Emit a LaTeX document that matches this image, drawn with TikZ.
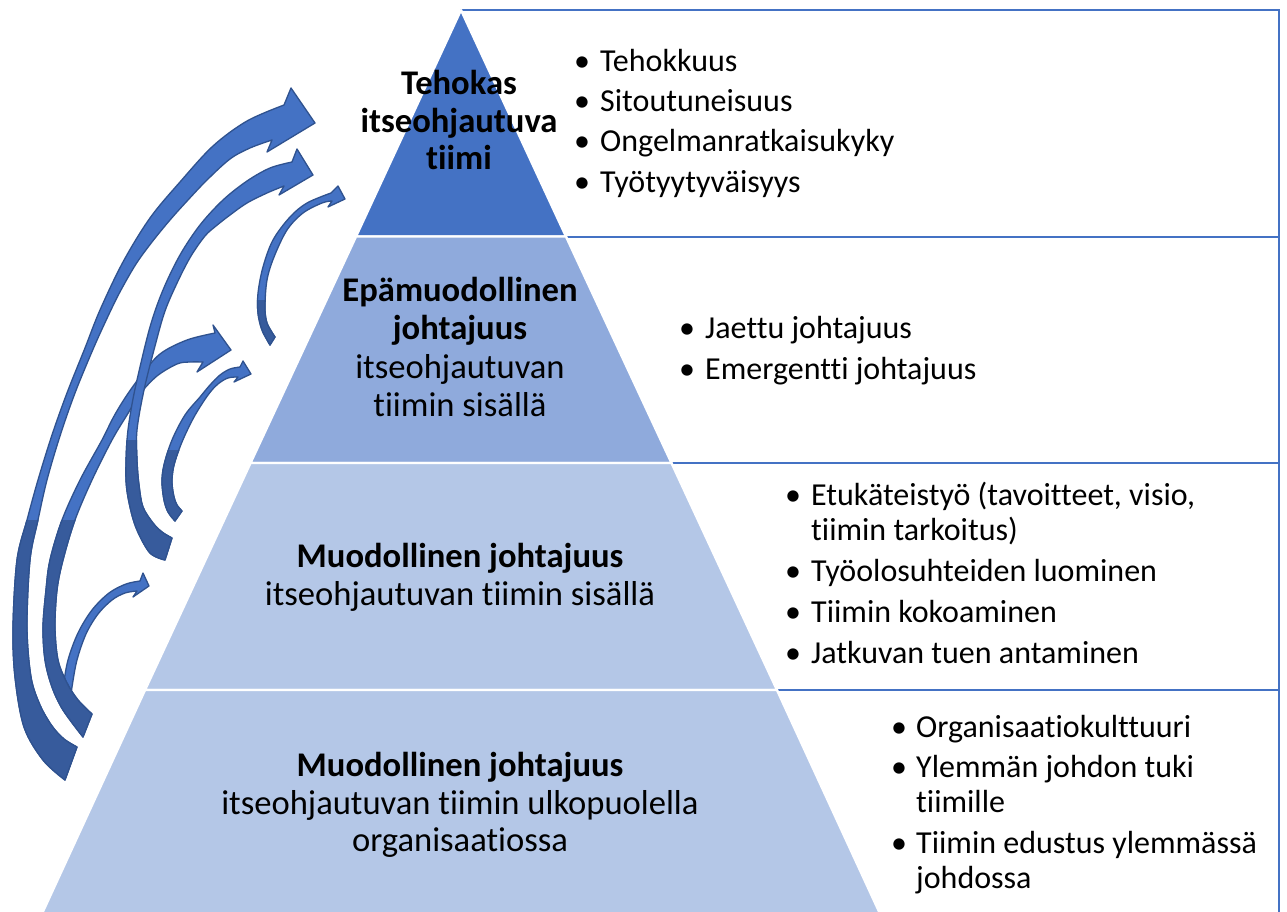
\documentclass[tikz,border=0pt]{standalone}
\usepackage{fontspec}
\setmainfont{Carlito}[Ligatures=NoCommon]
\definecolor{tierA}{HTML}{4472C4}
\definecolor{tierB}{HTML}{8FAADC}
\definecolor{tierC}{HTML}{B4C7E7}
\definecolor{boxline}{HTML}{4472C4}
\definecolor{arrfront}{HTML}{4472C4}
\definecolor{arrbackc}{HTML}{375B9C}
\definecolor{arrline}{HTML}{2F528F}
\tikzset{
  boxr/.style={draw=boxline, line width=2.8pt, fill=white, rectangle, inner sep=0pt, outer sep=0pt, anchor=north west},
  tierfill/.style={draw=white, line width=2.4pt, line join=round},
  arrf/.style={fill=arrfront, draw=arrline, line width=1.3pt, line join=round},
  arrb/.style={fill=arrbackc, draw=arrline, line width=1.3pt, line join=round},
  lst/.style={font=\fontsize{32}{35}\selectfont, anchor=base west, inner sep=0pt},
  bul/.style={font=\fontsize{32}{35}\selectfont, anchor=base, inner sep=0pt},
  tb/.style={font=\fontsize{34.6}{38}\selectfont\bfseries, anchor=base, inner sep=0pt},
  tn/.style={font=\fontsize{34.6}{38}\selectfont, anchor=base, inner sep=0pt},
}
\def\arrAone{(65,780) -- plot[smooth, tension=0.55] coordinates {(65,780) (43,760) (24,727) (15,677) (13,627) (17,560) (27,520) (38,480) (52,435) (67,393) (85,348) (100,310) (123,262) (150,218) (180,182) (213,146) (247,121) (284,105)} -- (291,88) -- (315,123) -- (267,152) -- (272,140) -- plot[smooth, tension=0.55] coordinates {(272,140) (250,148) (230,159) (207,180) (188,200) (170,220) (152,242) (136,264) (121,290) (110,312) (94,347) (75,393) (60,436) (47,480) (38,520) (30,560) (27,627) (31,677) (40,705) (52,726) (64,739) (77,747)} -- cycle}
\def\arrAtwo{(165,560) -- plot[smooth, tension=0.55] coordinates {(165,560) (150,553) (137,530) (130,507) (126,480) (127,440) (131,410) (137,380) (150,327) (163,290) (180,255) (200,225) (223,200) (247,181) (270,168) (292,162)} -- (297,149) -- (313,175) -- (279,195) -- (284,186) -- plot[smooth, tension=0.55] coordinates {(284,186) (267,193) (247,203) (230,215) (216,226) (205,236) (191,256) (178,281) (165,311) (155,346) (144,390) (137,430) (137,460) (139,485) (143,507) (153,523) (162,532) (172,538)} -- cycle}
\def\arrAthree{(270,345) -- plot[smooth, tension=0.55] coordinates {(270,345) (262,330) (258,313) (258,293) (263,267) (273,240) (290,217) (307,203) (331,193)} -- (338,186) -- (345,199) -- (328,207) -- (332,201) -- plot[smooth, tension=0.55] coordinates {(332,201) (322,203) (303,213) (287,230) (274,257) (267,280) (265,307) (267,323) (275,337)} -- cycle}
\def\arrAfour{(83,737) -- plot[smooth, tension=0.55] coordinates {(83,737) (63,710) (52,687) (45,660) (43,627) (46,590) (50,560) (62,520) (80,480) (102,440) (113,418) (125,398) (140,377) (160,354) (187,340) (215,333)} -- (213,325) -- (231,350) -- (197,372) -- (203,362) -- plot[smooth, tension=0.55] coordinates {(203,362) (190,362) (177,364) (157,376) (140,394) (127,415) (112,440) (92,480) (75,520) (63,560) (57,590) (55,627) (58,660) (67,683) (78,700) (92,714)} -- cycle}
\def\arrAfive{(175,521) -- plot[smooth, tension=0.55] coordinates {(175,521) (168,512) (164,500) (162,482) (164,465) (172,440) (185,415) (200,397) (210,385) (220,375) (230,369) (240,367)} -- (243,361) -- (251,374) -- (234,382) -- (238,377) -- plot[smooth, tension=0.55] coordinates {(238,377) (228,378) (218,384) (208,395) (194,417) (182,442) (174,465) (172,482) (174,497) (177,505) (182,511)} -- cycle}
\def\arrAsix{(60,702) -- plot[smooth, tension=0.55] coordinates {(60,702) (63,687) (68,660) (78,633) (92,610) (109,593) (126,584) (140,581)} -- (143,573) -- (149,586) -- (133,597) -- (137,591) -- plot[smooth, tension=0.55] coordinates {(137,591) (125,593) (112,600) (98,614) (86,634) (77,660) (72,687) (70,704)} -- cycle}
\begin{document}
\begin{tikzpicture}[x=1pt,y=-1pt]
\useasboundingbox (0,0) rectangle (1287,912);
\fill[white] (0,0) rectangle (1287,912);
% list boxes behind the pyramid
\node[boxr, minimum width=818pt, minimum height=227pt] (box1) at (461,10) {};
\node[boxr, minimum width=818pt, minimum height=226pt] (box2) at (461,237) {};
\node[boxr, minimum width=818pt, minimum height=227pt] (box3) at (461,463) {};
\node[boxr, minimum width=818pt, minimum height=240pt] (box4) at (461,690) {};
% pyramid tiers
\fill[tierA, tierfill] (461,10) -- (566,236.5) -- (356,236.5) -- cycle;
\fill[tierB, tierfill] (356,236.5) -- (566,236.5) -- (671.5,463) -- (250.5,463) -- cycle;
\fill[tierC, tierfill] (250.5,463) -- (671.5,463) -- (777,690) -- (145,690) -- cycle;
\fill[tierC, tierfill] (145,690) -- (777,690) -- (882,918) -- (40,918) -- cycle;
% curved arrows
\filldraw[arrf] \arrAsix;
\filldraw[arrf] \arrAfour;
\begin{scope}\clip (0,520) rectangle (400,912); \filldraw[arrb] \arrAfour; \end{scope}
\filldraw[arrf] \arrAfive;
\begin{scope}\clip (0,450) rectangle (400,912); \filldraw[arrb] \arrAfive; \end{scope}
\filldraw[arrf] \arrAone;
\begin{scope}\clip (0,520) rectangle (400,912); \filldraw[arrb] \arrAone; \end{scope}
\filldraw[arrf] \arrAtwo;
\begin{scope}\clip (0,440) rectangle (400,912); \filldraw[arrb] \arrAtwo; \end{scope}
\filldraw[arrf] \arrAthree;
\begin{scope}\clip (0,300) rectangle (400,912); \filldraw[arrb] \arrAthree; \end{scope}
% tier texts
\node[tb] (t1a) at (459,95) {Tehokas};
\node[tb] (t1b) at (459,132.5) {itseohjautuva};
\node[tb] (t1c) at (459,170) {tiimi};
\node[tb] (t2a) at (460,301.5) {Epämuodollinen};
\node[tb] (t2b) at (460,339.5) {johtajuus};
\node[tn] (t2c) at (460,378) {itseohjautuvan};
\node[tn] (t2d) at (460,416) {tiimin sisällä};
\node[tb] (t3a) at (460,567) {Muodollinen johtajuus};
\node[tn] (t3b) at (460,605) {itseohjautuvan tiimin sisällä};
\node[tb] (t4a) at (460,776) {Muodollinen johtajuus};
\node[tn] (t4b) at (460,814) {itseohjautuvan tiimin ulkopuolella};
\node[tn] (t4c) at (460,851) {organisaatiossa};
% box 1 list
\node[bul] (b1a) at (582,72) {•};
\node[bul] (b1b) at (582,112) {•};
\node[bul] (b1c) at (582,152) {•};
\node[bul] (b1d) at (582,193) {•};
\node[lst] (l1a) at (600,72) {Tehokkuus};
\node[lst] (l1b) at (600,112) {Sitoutuneisuus};
\node[lst] (l1c) at (600,152) {Ongelmanratkaisukyky};
\node[lst] (l1d) at (600,193) {Työtyytyväisyys};
% box 2 list
\node[bul] (b2a) at (687,338) {•};
\node[bul] (b2b) at (687,379) {•};
\node[lst] (l2a) at (705,338) {Jaettu johtajuus};
\node[lst] (l2b) at (705,379) {Emergentti johtajuus};
% box 3 list
\node[bul] (b3a) at (793,505) {•};
\node[bul] (b3b) at (793,581) {•};
\node[bul] (b3c) at (793,622) {•};
\node[bul] (b3d) at (793,663) {•};
\node[lst] (l3a) at (811,505) {Etukäteistyö (tavoitteet, visio,};
\node[lst] (l3a2) at (811,540) {tiimin tarkoitus)};
\node[lst] (l3b) at (811,581) {Työolosuhteiden luominen};
\node[lst] (l3c) at (811,622) {Tiimin kokoaminen};
\node[lst] (l3d) at (811,663) {Jatkuvan tuen antaminen};
% box 4 list
\node[bul] (b4a) at (899,737) {•};
\node[bul] (b4b) at (899,777) {•};
\node[bul] (b4c) at (899,853) {•};
\node[lst] (l4a) at (916,737) {Organisaatiokulttuuri};
\node[lst] (l4b) at (916,777) {Ylemmän johdon tuki};
\node[lst] (l4b2) at (916,812) {tiimille};
\node[lst] (l4c) at (916,853) {Tiimin edustus ylemmässä};
\node[lst] (l4c2) at (916,888) {johdossa};
\end{tikzpicture}
\end{document}
